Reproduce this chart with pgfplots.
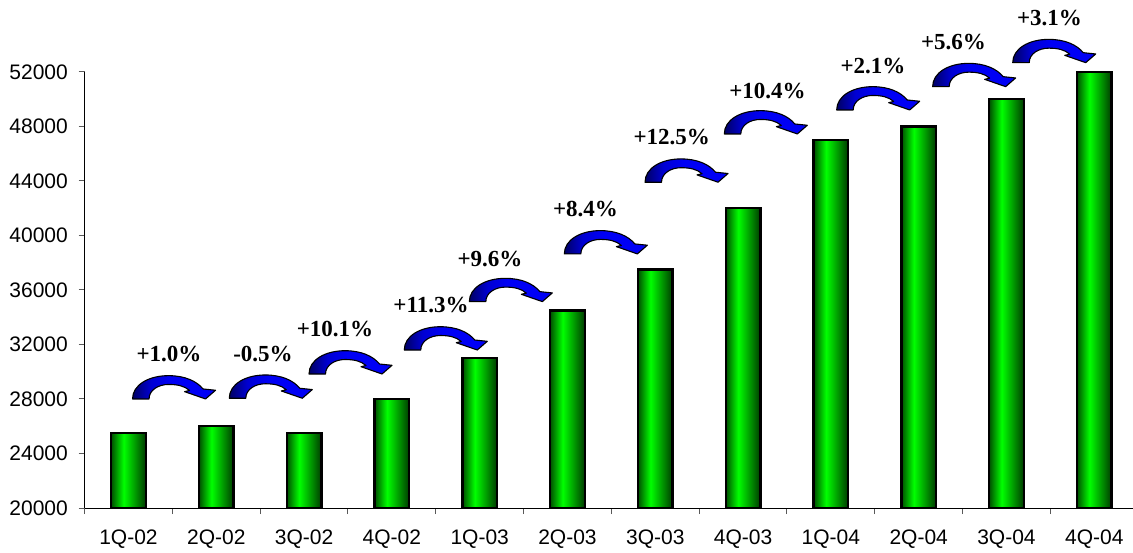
\documentclass[border=0pt]{standalone}
\usepackage{fontspec}
\setmainfont{Liberation Sans}
\newfontfamily\timesfont{Liberation Serif}
\usepackage{pgfplots}
\pgfplotsset{compat=1.18}
\definecolor{gdark}{RGB}{0,80,0}
\definecolor{gbright}{RGB}{0,255,0}
\definecolor{gdark2}{RGB}{0,60,0}
\pgfdeclarehorizontalshading{barshade}{100bp}{color(0bp)=(gdark); color(25bp)=(gdark); color(43bp)=(gbright); color(75bp)=(gdark2); color(100bp)=(gdark2)}
\definecolor{bdark}{RGB}{0,0,100}
\definecolor{bmid}{RGB}{0,0,210}
\definecolor{bbright}{RGB}{0,0,245}
\pgfdeclarehorizontalshading{arrowshade}{100bp}{color(0bp)=(bdark); color(25bp)=(bdark); color(36bp)=(bmid); color(48bp)=(bbright); color(100bp)=(bbright)}
\newcommand{\curvarrow}[1]{%
  \shadedraw[shading=arrowshade, draw=black, line width=1.1pt, line join=round, shift={(#1)}]
  (0pt,0pt) .. controls (0pt,14pt) and (16pt,23.3pt) .. (36pt,23.3pt)
  .. controls (52pt,23.3pt) and (64pt,18pt) .. (70.5pt,10pt)
  -- (83pt,8.7pt) -- (73pt,0pt) -- (52pt,7.3pt) -- (57pt,8.5pt)
  .. controls (52pt,13pt) and (45pt,14.5pt) .. (36pt,14.5pt)
  .. controls (26pt,14.5pt) and (16.5pt,9pt) .. (16.5pt,0pt) -- cycle;}
\pgfplotsset{gbar/.style={ybar, bar width=34.5pt, bar shift=0pt, draw=black, line width=2.4pt, shading=barshade}}
\begin{document}
\begin{tikzpicture}
\useasboundingbox (0,0) rectangle (1133pt,552pt);
\begin{axis}[
  at={(84.6pt,44pt)}, anchor=south west,
  scale only axis, width=1053.6pt, height=436.2pt,
  xmin=-0.5, xmax=11.5, ymin=20000, ymax=52000,
  clip=false,
  axis x line*=bottom, axis y line*=left,
  axis line style={line width=1pt, black},
  xtick={0,...,11},
  xticklabels={1Q-02,2Q-02,3Q-02,4Q-02,1Q-03,2Q-03,3Q-03,4Q-03,1Q-04,2Q-04,3Q-04,4Q-04},
  minor xtick={-0.5,0.5,...,11.5},
  ytick={20000,24000,...,52000},
  tick align=outside,
  major tick length=6pt, minor tick length=6pt,
  major x tick style={draw=none},
  every tick/.style={line width=1pt, black!65},
  ticklabel style={inner sep=0pt, font=\fontsize{21}{21}\selectfont},
  yticklabel shift=10.6pt,
  xticklabel shift=16pt,
  /pgf/number format/assume math mode=true,
  /pgf/number format/1000 sep={},
  scaled y ticks=false,
]
\addplot[gbar] coordinates {(0,25500)};
\addplot[gbar] coordinates {(1,26000)};
\addplot[gbar] coordinates {(2,25500)};
\addplot[gbar] coordinates {(3,28000)};
\addplot[gbar] coordinates {(4,31000)};
\addplot[gbar] coordinates {(5,34500)};
\addplot[gbar] coordinates {(6,37500)};
\addplot[gbar] coordinates {(7,42000)};
\addplot[gbar] coordinates {(8,47000)};
\addplot[gbar] coordinates {(9,48000)};
\addplot[gbar] coordinates {(10,50000)};
\addplot[gbar] coordinates {(11,52000)};
\coordinate (A1) at (axis cs:0.046,28000);
\coordinate (A2) at (axis cs:1.148,28050);
\coordinate (A3) at (axis cs:2.056,29830);
\coordinate (A4) at (axis cs:3.141,31590);
\coordinate (A5) at (axis cs:3.882,35140);
\coordinate (A6) at (axis cs:4.964,38640);
\coordinate (A7) at (axis cs:5.883,43900);
\coordinate (A8) at (axis cs:6.786,47440);
\coordinate (A9) at (axis cs:8.066,49200);
\coordinate (A10) at (axis cs:9.159,50910);
\coordinate (A11) at (axis cs:10.071,52670);
\begin{scope}[every node/.style={anchor=base, inner sep=0pt, font=\timesfont\bfseries\fontsize{23}{23}\selectfont}]
\node at (axis cs:0.461,30712) {+1.0\%};
\node at (axis cs:1.532,30712) {-0.5\%};
\node at (axis cs:2.352,32568) {+10.1\%};
\node at (axis cs:3.445,34307) {+11.3\%};
\node at (axis cs:4.117,37704) {+9.6\%};
\node at (axis cs:5.205,41373) {+8.4\%};
\node at (axis cs:6.187,46633) {+12.5\%};
\node at (axis cs:7.278,50060) {+10.4\%};
\node at (axis cs:8.479,51894) {+2.1\%};
\node at (axis cs:9.396,53603) {+5.6\%};
\node at (axis cs:10.490,55364) {+3.1\%};
\end{scope}
\end{axis}
\foreach \i in {1,...,11}{\curvarrow{A\i}}
\end{tikzpicture}
\end{document}
